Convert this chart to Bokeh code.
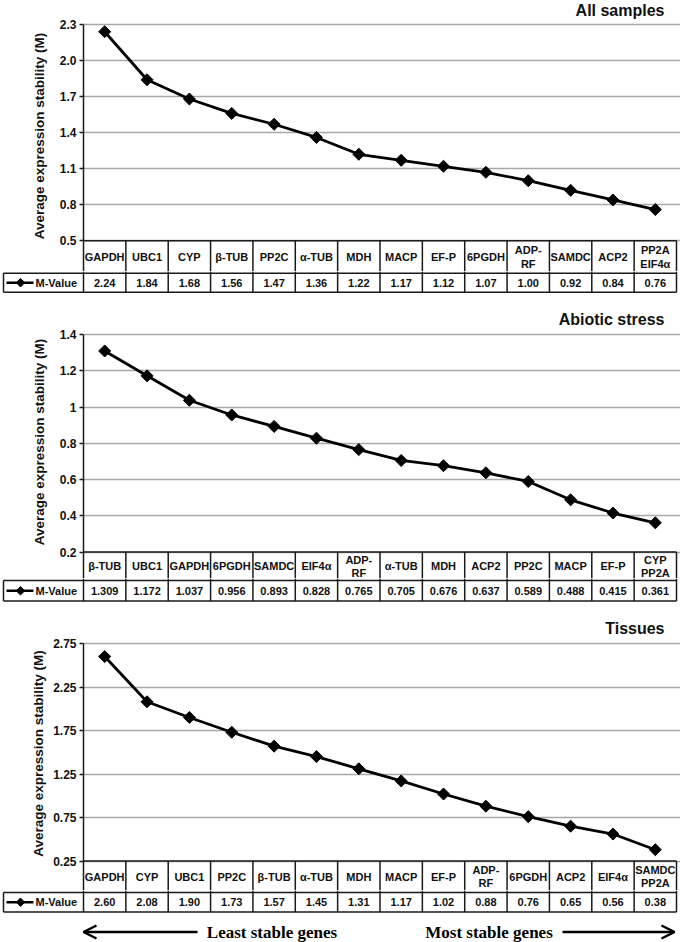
import numpy as np
from bokeh.plotting import figure
from bokeh.models import Range1d, FixedTicker, Arrow, OpenHead
from bokeh.layouts import column
from bokeh.core.properties import value
from bokeh.embed import file_html
from bokeh.resources import INLINE

# ---------------- data ----------------
ALL_GENES = ["GAPDH", "UBC1", "CYP", "β-TUB", "PP2C", "α-TUB", "MDH", "MACP",
             "EF-P", "6PGDH", "ADP-\nRF", "SAMDC", "ACP2", "PP2A\nEIF4α"]
ALL_M = [2.24, 1.84, 1.68, 1.56, 1.47, 1.36, 1.22, 1.17, 1.12, 1.07, 1.00, 0.92, 0.84, 0.76]
ALL_TICKS = [0.5, 0.8, 1.1, 1.4, 1.7, 2.0, 2.3]
ALL_TICK_LABELS = ["0.5", "0.8", "1.1", "1.4", "1.7", "2.0", "2.3"]

ABIO_GENES = ["β-TUB", "UBC1", "GAPDH", "6PGDH", "SAMDC", "EIF4α", "ADP-\nRF", "α-TUB",
              "MDH", "ACP2", "PP2C", "MACP", "EF-P", "CYP\nPP2A"]
ABIO_M = [1.309, 1.172, 1.037, 0.956, 0.893, 0.828, 0.765, 0.705, 0.676, 0.637, 0.589, 0.488, 0.415, 0.361]
ABIO_TICKS = [0.2, 0.4, 0.6, 0.8, 1.0, 1.2, 1.4]
ABIO_TICK_LABELS = ["0.2", "0.4", "0.6", "0.8", "1", "1.2", "1.4"]

TIS_GENES = ["GAPDH", "CYP", "UBC1", "PP2C", "β-TUB", "α-TUB", "MDH", "MACP",
             "EF-P", "ADP-\nRF", "6PGDH", "ACP2", "EIF4α", "SAMDC\nPP2A"]
TIS_M = [2.60, 2.08, 1.90, 1.73, 1.57, 1.45, 1.31, 1.17, 1.02, 0.88, 0.76, 0.65, 0.56, 0.38]
TIS_TICKS = [0.25, 0.75, 1.25, 1.75, 2.25, 2.75]
TIS_TICK_LABELS = ["0.25", "0.75", "1.25", "1.75", "2.25", "2.75"]

TITLES = ["All samples", "Abiotic stress", "Tissues"]
DECIMALS = [2, 3, 2]
LEGEND_LABEL = "M-Value"
AXIS_LABEL = "Average expression stability (M)"
ARROW_LEFT_TEXT = "Least stable genes"
ARROW_RIGHT_TEXT = "Most stable genes"

# ---------------- layout constants ----------------
W = 680
LEFT = 83
RIGHT_EDGE = 676
N = 14
COLW = (RIGHT_EDGE - LEFT) / N
FONT = "Liberation Sans"
SERIF = "Liberation Serif"
LINE_C = "#1a1a1a"
GRID_C = "#a8a8a8"


def px2x(px):
    return (px - LEFT) / COLW


def no_align(p):
    try:
        p.frame_align = False
    except Exception:
        pass


def make_chart(genes, vals, ticks, tick_labels, title, fig_h, border_top,
               top_px, bot_px, row_px, title_px, label_standoff):
    t0, t1 = ticks[0], ticks[-1]
    k = (bot_px - top_px) / (t1 - t0)
    y_end = t1 + (top_px - border_top) / k
    y_start = t0 - (fig_h - bot_px) / k
    p = figure(width=W, height=fig_h, output_backend="svg", toolbar_location=None,
               x_range=Range1d(0, px2x(W)), y_range=Range1d(y_start, y_end),
               x_axis_location=None, min_border_left=LEFT, min_border_right=0,
               min_border_top=border_top, min_border_bottom=0)
    no_align(p)
    p.outline_line_color = None
    p.background_fill_color = "white"
    p.border_fill_color = "white"
    p.xgrid.visible = False
    tk = FixedTicker(ticks=ticks, minor_ticks=[])
    p.yaxis.ticker = tk
    p.ygrid.ticker = tk
    p.ygrid.grid_line_color = GRID_C
    p.ygrid.grid_line_width = 1.5
    ax = p.yaxis[0]
    ax.bounds = (y_start, t1)
    ax.major_label_overrides = {t: l for t, l in zip(ticks, tick_labels)}
    ax.axis_line_color = LINE_C
    ax.axis_line_width = 1.5
    ax.major_tick_line_color = LINE_C
    ax.major_tick_line_width = 1.5
    ax.major_tick_out = 4
    ax.major_tick_in = 0
    ax.minor_tick_line_color = None
    ax.major_label_standoff = 3
    ax.major_label_text_font = FONT
    ax.major_label_text_font_style = "bold"
    ax.major_label_text_font_size = "12px"
    ax.major_label_text_color = "#111111"
    ax.axis_label = AXIS_LABEL
    ax.axis_label_text_font = FONT
    ax.axis_label_text_font_style = "bold"
    ax.axis_label_text_font_size = "13.5px"
    ax.axis_label_text_color = "#111111"
    ax.axis_label_standoff = label_standoff

    xs = np.arange(N) + 0.5
    p.segment(x0=[0], y0=[t0], x1=[N], y1=[t0], line_color=LINE_C, line_width=1.5)
    b = np.arange(1, N + 1)
    p.segment(x0=b, y0=[t0] * N, x1=b, y1=[y_start] * N, line_color=LINE_C, line_width=1.5)
    p.line(xs, vals, line_color="black", line_width=2.8)
    p.scatter(xs, vals, marker="square", angle=np.pi / 4, size=8.5,
              fill_color="black", line_color="black")
    cy = t0 - (row_px - bot_px) / 2 / k
    p.text(xs, [cy] * N, text=genes, text_font=value(FONT), text_font_style="bold",
           text_font_size="11px", text_align="center", text_baseline="middle",
           text_color="#111111", text_line_height=1.1)
    ty = t1 + (top_px - title_px) / k
    p.text([px2x(664)], [ty], text=[title], text_font=value(FONT), text_font_style="bold",
           text_font_size="16px", text_align="right", text_baseline="middle",
           text_color="#111111")
    return p


def make_values(vals, decimals, fig_h, top_px, bot_px):
    k = bot_px - top_px
    y_end = 1 + top_px / k
    y_start = -(fig_h - bot_px) / k
    p = figure(width=W, height=fig_h, output_backend="svg", toolbar_location=None,
               x_range=Range1d(px2x(0), px2x(W)), y_range=Range1d(y_start, y_end),
               x_axis_location=None, y_axis_location=None,
               min_border_left=0, min_border_right=0, min_border_top=0, min_border_bottom=0)
    no_align(p)
    p.outline_line_color = None
    p.grid.visible = False
    p.background_fill_color = "white"
    p.border_fill_color = "white"
    xl = px2x(3)
    p.segment(x0=[xl, xl], y0=[0, 1], x1=[N, N], y1=[0, 1], line_color=LINE_C, line_width=1.5)
    p.segment(x0=[xl], y0=[0], x1=[xl], y1=[1], line_color=LINE_C, line_width=1.5)
    b = np.arange(0, N + 1)
    p.segment(x0=b, y0=[0] * len(b), x1=b, y1=[y_end] * len(b), line_color=LINE_C, line_width=1.5)
    xs = np.arange(N) + 0.5
    labels = [f"{v:.{decimals}f}" for v in vals]
    p.text(xs, [0.5] * N, text=labels, text_font=value(FONT), text_font_style="bold",
           text_font_size="11px", text_align="center", text_baseline="middle",
           text_color="#111111")
    p.line([px2x(6), px2x(33)], [0.5, 0.5], line_color="black", line_width=2.6)
    p.scatter([px2x(20)], [0.5], marker="square", angle=np.pi / 4, size=6,
              fill_color="black", line_color="black")
    p.text([px2x(35)], [0.5], text=[LEGEND_LABEL], text_font=value(FONT),
           text_font_style="bold", text_font_size="11px", text_align="left",
           text_baseline="middle", text_color="#111111")
    return p


c1 = make_chart(ALL_GENES, ALL_M, ALL_TICKS, ALL_TICK_LABELS, TITLES[0],
                271, 0, 24, 240.3, 272.7, 10, 10)
v1 = make_values(ALL_M, DECIMALS[0], 23, 1.7, 20.7)
c2 = make_chart(ABIO_GENES, ABIO_M, ABIO_TICKS, ABIO_TICK_LABELS, TITLES[1],
                284, 11, 40, 257.5, 286, 25, 10)
v2 = make_values(ABIO_M, DECIMALS[1], 24, 2, 22.5)
c3 = make_chart(TIS_GENES, TIS_M, TIS_TICKS, TIS_TICK_LABELS, TITLES[2],
                288, 14, 41, 258.5, 290, 26, 4)
v3 = make_values(TIS_M, DECIMALS[2], 24, 2, 21.5)

AH = 28
pa = figure(width=W, height=AH, output_backend="svg", toolbar_location=None,
            x_range=Range1d(0, W), y_range=Range1d(0, AH),
            x_axis_location=None, y_axis_location=None,
            min_border_left=0, min_border_right=0, min_border_top=0, min_border_bottom=0)
no_align(pa)
pa.outline_line_color = None
pa.grid.visible = False
ay = AH - 17.5
pa.add_layout(Arrow(end=OpenHead(size=13, line_width=2.5, line_color="black"),
                    x_start=197, y_start=ay, x_end=83, y_end=ay,
                    line_width=2.5, line_color="black"))
pa.add_layout(Arrow(end=OpenHead(size=13, line_width=2.5, line_color="black"),
                    x_start=562, y_start=ay, x_end=674, y_end=ay,
                    line_width=2.5, line_color="black"))
pa.text([271.5, 488.5], [ay, ay], text=[ARROW_LEFT_TEXT, ARROW_RIGHT_TEXT],
        text_font=value(SERIF), text_font_style="bold", text_font_size="17px",
        text_align="center", text_baseline="middle", text_color="black")

layout = column(c1, v1, c2, v2, c3, v3, pa, spacing=0)
open("out.html", "w").write(file_html(layout, INLINE))
